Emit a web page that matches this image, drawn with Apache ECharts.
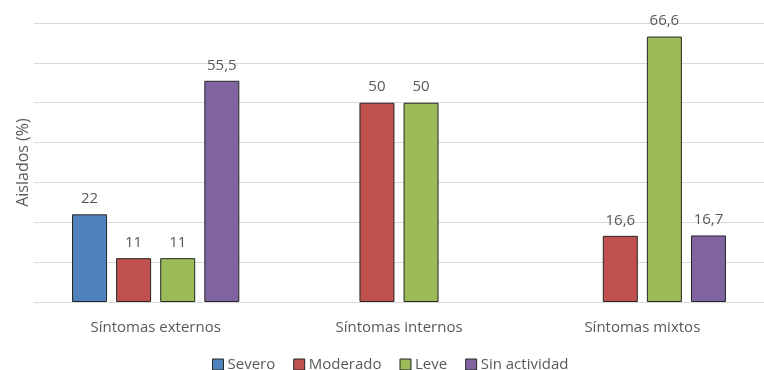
<!DOCTYPE html>
<html>
<head>
<meta charset="utf-8">
<script src="https://cdn.jsdelivr.net/npm/echarts@6/dist/echarts.min.js"></script>
<style>
html,body{margin:0;padding:0;background:#fff;}
#chart{width:764px;height:370px;}
</style>
</head>
<body>
<div id="chart"></div>
<script>
// Categories and percentage of isolates per activity level
const categories = ['Síntomas externos', 'Síntomas internos', 'Síntomas mixtos'];
const seriesNames = ['Severo', 'Moderado', 'Leve', 'Sin actividad'];
const severo = [22, null, null];
const moderado = [11, 50, 16.6];
const leve = [11, 50, 66.6];
const sinActividad = [55.5, null, 16.7];
const colors = ['#4F81BD', '#C0504D', '#9BBB59', '#8064A2'];

const font = 'Open Sans';
const textColor = '#595959';

function fmt(v) {
  return String(v).replace('.', ',');
}

const values = [severo, moderado, leve, sinActividad];
const series = seriesNames.map((name, i) => ({
  name: name,
  type: 'bar',
  data: values[i],
  barWidth: 35,
  barGap: '26%',
  itemStyle: { color: colors[i], borderColor: '#262626', borderWidth: 1 },
  label: {
    show: true,
    position: 'top',
    distance: 8,
    color: textColor,
    fontFamily: font,
    fontSize: 15,
    formatter: p => fmt(p.value)
  }
}));

const chart = echarts.init(document.getElementById('chart'));
chart.setOption({
  animation: false,
  backgroundColor: '#fff',
  textStyle: { fontFamily: font },
  grid: { left: 34, width: 732, top: 23, height: 279 },
  legend: {
    top: 352,
    left: 207,
    icon: 'rect',
    itemWidth: 11,
    itemHeight: 11,
    itemGap: 18,
    textStyle: { color: textColor, fontFamily: font, fontSize: 15, padding: [0, 0, 0, -1] },
    itemStyle: { borderColor: '#262626', borderWidth: 1 },
    data: seriesNames
  },
  xAxis: {
    type: 'category',
    data: categories,
    axisLine: { show: true, lineStyle: { color: '#d9d9d9', width: 1 } },
    axisTick: { show: false },
    axisLabel: { color: textColor, fontFamily: font, fontSize: 15, margin: 18 }
  },
  yAxis: {
    type: 'value',
    min: 0,
    max: 70,
    interval: 10,
    name: 'Aislados (%)',
    nameLocation: 'middle',
    nameGap: 3,
    nameTextStyle: { color: textColor, fontFamily: font, fontSize: 16 },
    axisLine: { show: false },
    axisTick: { show: false },
    axisLabel: { show: false },
    splitLine: { lineStyle: { color: '#d9d9d9', width: 1 } }
  },
  series: series
});
</script>
</body>
</html>
